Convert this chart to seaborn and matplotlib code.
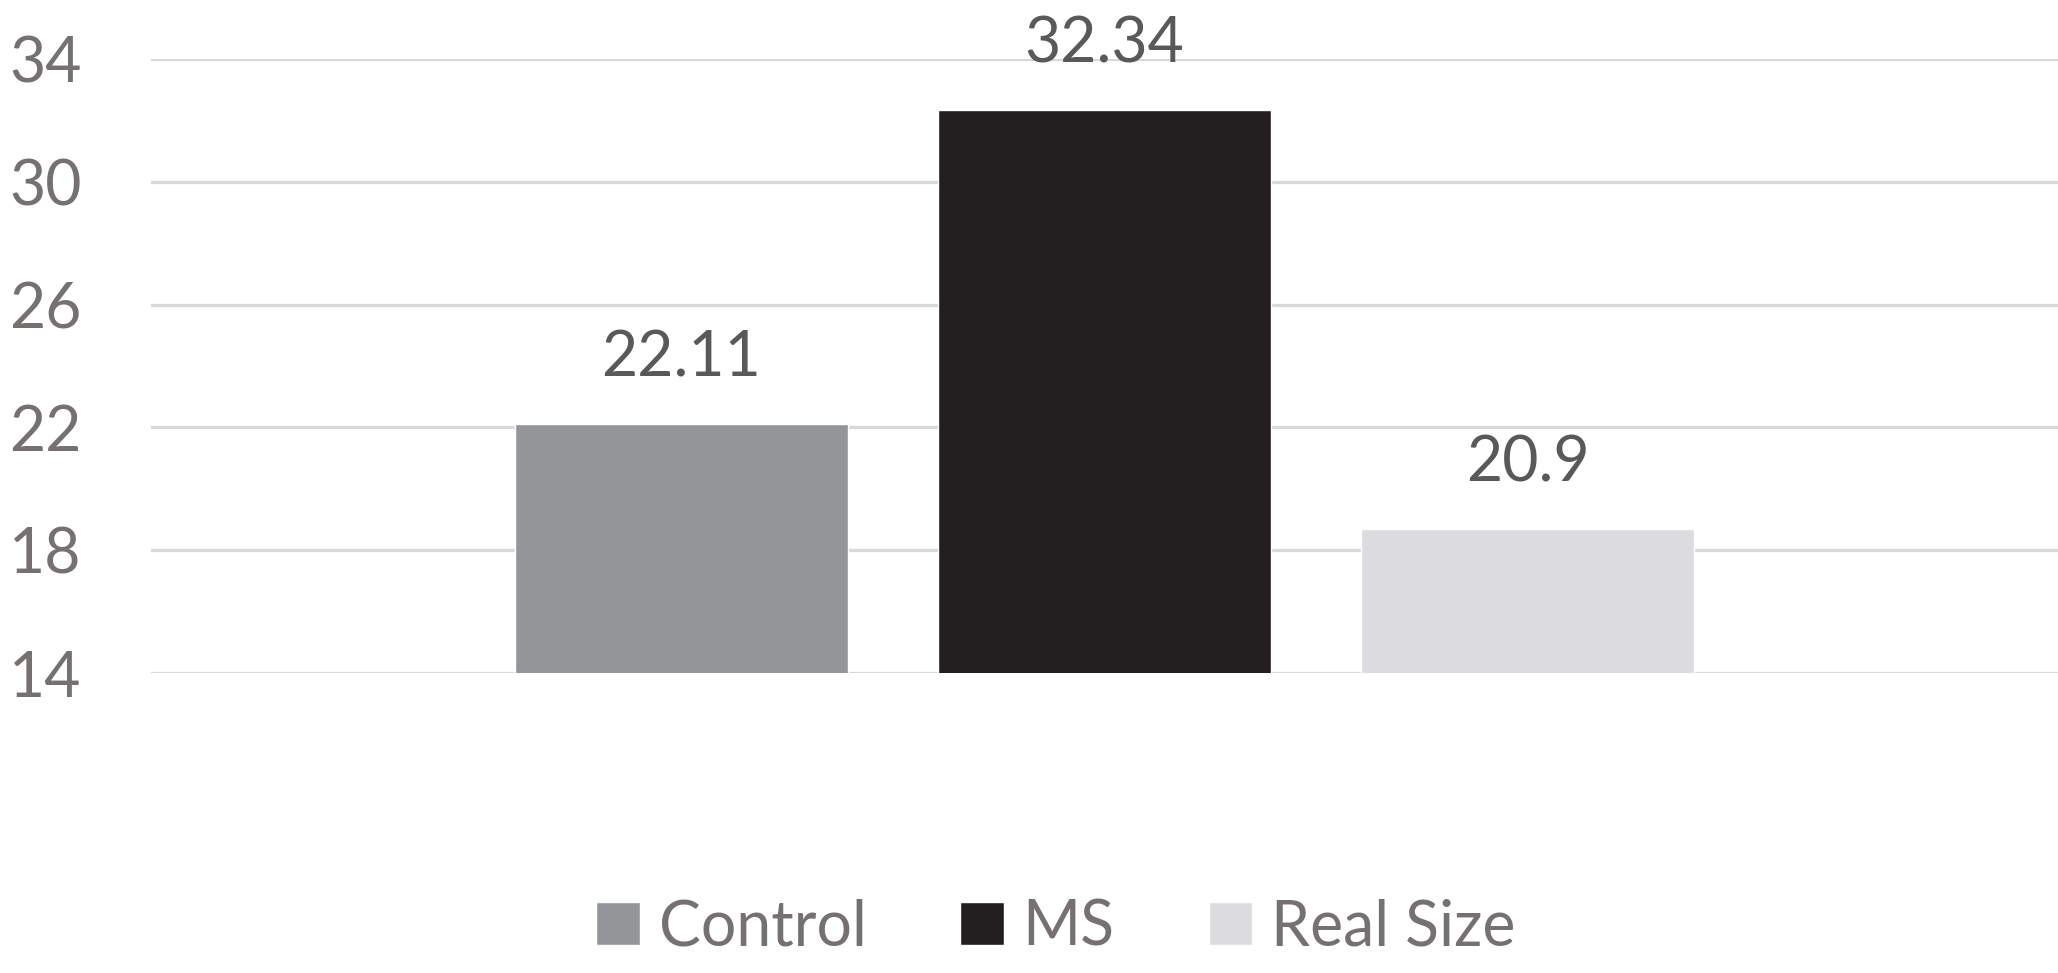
import matplotlib
matplotlib.use("Agg")
import matplotlib.pyplot as plt
import seaborn as sns
import pandas as pd

groups = ['Control', 'MS', 'Real Size']
heights = [22.11, 32.34, 18.7]
value_labels = ['22.11', '32.34', '20.9']
colors = ['#939598', '#231f20', '#dcdcdf']
yticks = [14, 18, 22, 26, 30, 34]

sns.set_theme(style="white")
plt.rcParams['font.family'] = ['Lato', 'DejaVu Sans']

df = pd.DataFrame({'cat': [''] * 3, 'group': groups, 'value': heights})

fig = plt.figure(figsize=(20.58, 9.73), dpi=100)
ax = fig.add_axes([0.0734, 0.3083, 0.9266, 0.6311])

sns.barplot(data=df, x='cat', y='value', hue='group', palette=colors,
            width=0.666, gap=0.214, saturation=1, ax=ax, legend=True)

ax.set_ylim(14, 34)
ax.set_xlim(-0.5, 0.5)
ax.set_yticks(yticks)
ax.set_yticklabels([str(t) for t in yticks], fontsize=45, color='#767171')
ax.tick_params(axis='y', length=0, pad=50)
ax.tick_params(axis='x', length=0, labelbottom=False)
ax.set_xlabel('')
ax.set_ylabel('')
for s in ax.spines.values():
    s.set_visible(False)
ax.yaxis.grid(True, color='#d9d9d9', linewidth=2.4)
ax.set_axisbelow(True)

for bar, lab in zip(ax.patches[:3], value_labels):
    ax.annotate(lab, (bar.get_x() + bar.get_width() / 2, bar.get_height()),
                xytext=(0, 34), textcoords='offset points', ha='center',
                va='baseline', fontsize=45, color='#595959', annotation_clip=False)

handles, labels = ax.get_legend_handles_labels()
ax.get_legend().remove()
fig.legend(handles, labels, loc='center', bbox_to_anchor=(0.513, 0.047), ncol=3,
           frameon=False, fontsize=45, labelcolor='#767171', handlelength=0.7,
           handleheight=0.7, handletextpad=0.3, columnspacing=1.5)

fig.savefig('out.png', dpi=100)
